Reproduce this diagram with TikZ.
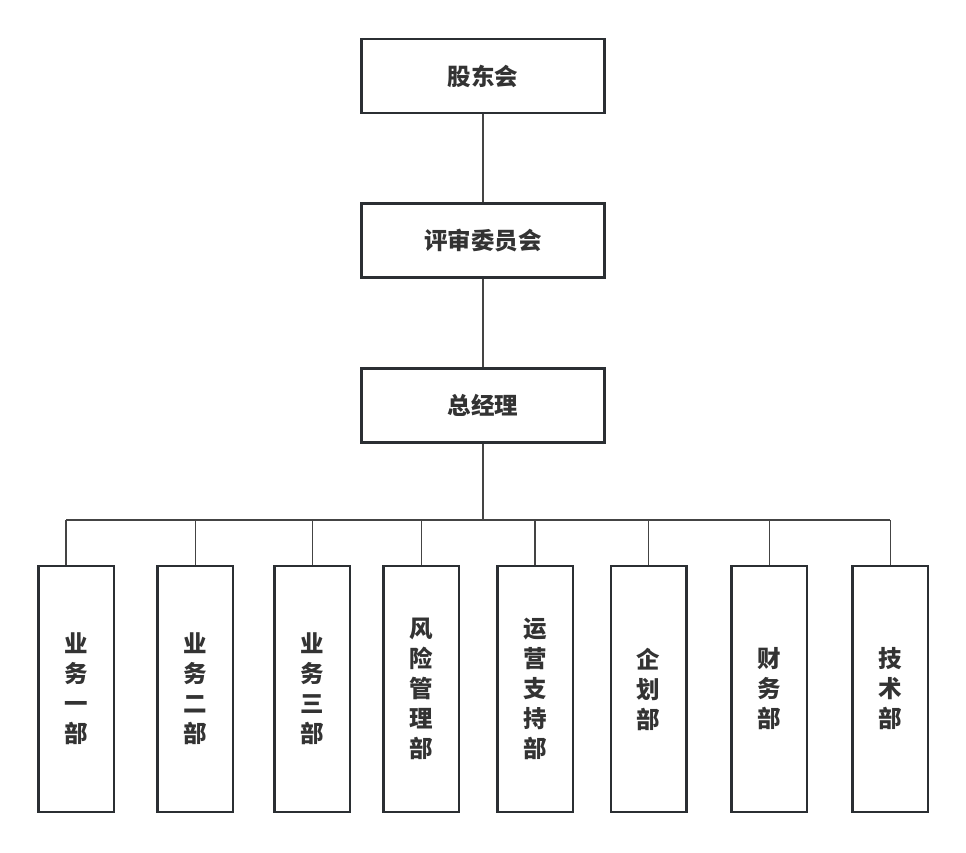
\documentclass[tikz,border=0pt]{standalone}
\usepackage{fontspec}
\newfontfamily\cjk{Noto Sans CJK SC}
\definecolor{boxline}{HTML}{2B2F33}
\definecolor{linkline}{HTML}{444444}
\tikzset{
  topbox/.style={draw=boxline,line width=2.5pt,minimum width=243pt,minimum height=74pt,inner sep=0pt,
    font=\cjk\bfseries\fontsize{23.5pt}{30pt}\selectfont,text=black!80},
  deptbox/.style={draw=boxline,line width=2.5pt,minimum width=75.5pt,minimum height=246pt,inner sep=0pt,
    align=center,font=\cjk\bfseries\fontsize{23.5pt}{30pt}\selectfont,text=black!80},
  link/.style={draw=linkline,line width=1.5pt}
}
\begin{document}
\begin{tikzpicture}[x=1pt,y=-1pt]
\useasboundingbox (0,0) rectangle (966,852);
% upper levels
\node[topbox] (gdh) at (483,76) {股东会};
\node[topbox] (pswyh) at (483,240.7) {评审委员会};
\node[topbox] (zjl) at (483,405.5) {总经理};
% departments
\node[deptbox] (yw1) at (76.2,689) {业\\务\\一\\部};
\node[deptbox] (yw2) at (195.3,689) {业\\务\\二\\部};
\node[deptbox] (yw3) at (312.3,689) {业\\务\\三\\部};
\node[deptbox] (fxgl) at (421.3,689) {风\\险\\管\\理\\部};
\node[deptbox] (yyzc) at (535.2,689) {运\\营\\支\\持\\部};
\node[deptbox] (qh) at (648.7,689) {企\\划\\部};
\node[deptbox] (cw) at (769.3,689) {财\\务\\部};
\node[deptbox] (js) at (890.3,689) {技\\术\\部};
% bus
\coordinate (busl) at (66,520);
\coordinate (busr) at (890.3,520);
\coordinate (busm) at (483,520);
\draw[link] (gdh) -- (pswyh);
\draw[link] (pswyh) -- (zjl);
\draw[link] (zjl) -- (busm);
\draw[link] (busl) -- (busr);
\draw[link] (busl) -- (busl |- yw1.north);
\foreach \d in {yw2,yw3,fxgl,yyzc,qh,cw,js}
  \draw[link] (\d.north |- busm) -- (\d.north);
\end{tikzpicture}
\end{document}
